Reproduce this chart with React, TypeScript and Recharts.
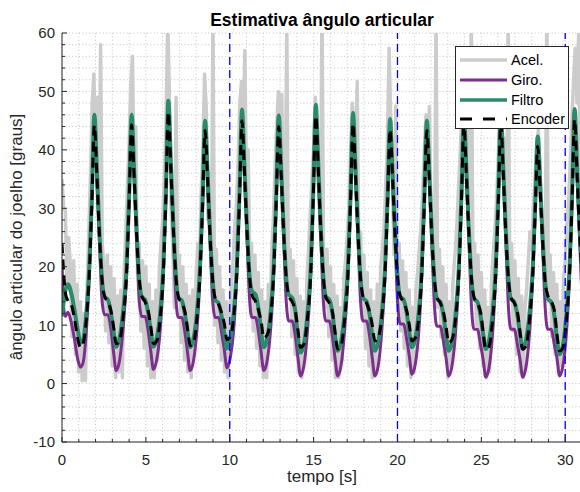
import React from 'react';
import { LineChart, Line, XAxis, YAxis, CartesianGrid, ReferenceLine } from 'recharts';

// knot times [s] shared by the smooth series (giro, filtro, encoder)
const knotTimes = [
    0, 0.1, 0.2, 0.35, 0.55, 0.75, 0.95, 1.1, 1.25, 1.45, 1.63, 1.78,
    1.93, 2.08, 2.23, 2.38, 2.53, 2.73, 2.93, 3.08, 3.23, 3.43, 3.63, 3.85, 4.0,
    4.15, 4.3, 4.45, 4.6, 4.75, 4.95, 5.15, 5.3, 5.45, 5.65, 5.85, 6.04, 6.19,
    6.34, 6.49, 6.64, 6.79, 6.94, 7.14, 7.34, 7.49, 7.64, 7.84, 8.04, 8.23, 8.38,
    8.53, 8.68, 8.83, 8.98, 9.13, 9.33, 9.53, 9.68, 9.83, 10.03, 10.23, 10.43, 10.58,
    10.73, 10.88, 11.03, 11.18, 11.33, 11.53, 11.73, 11.88, 12.03, 12.23, 12.43, 12.62, 12.77,
    12.92, 13.07, 13.22, 13.37, 13.52, 13.72, 13.92, 14.07, 14.22, 14.42, 14.62, 14.83, 14.98,
    15.13, 15.28, 15.43, 15.58, 15.73, 15.93, 16.13, 16.28, 16.43, 16.63, 16.83, 17.05, 17.2,
    17.35, 17.5, 17.65, 17.8, 17.95, 18.15, 18.35, 18.5, 18.65, 18.85, 19.05, 19.26, 19.41,
    19.56, 19.71, 19.86, 20.01, 20.16, 20.36, 20.56, 20.71, 20.86, 21.06, 21.26, 21.45, 21.6,
    21.75, 21.9, 22.05, 22.2, 22.35, 22.55, 22.75, 22.9, 23.05, 23.25, 23.45, 23.66, 23.81,
    23.96, 24.11, 24.26, 24.41, 24.56, 24.76, 24.96, 25.11, 25.26, 25.46, 25.66, 25.86, 26.01,
    26.16, 26.31, 26.46, 26.61, 26.76, 26.96, 27.16, 27.31, 27.46, 27.66, 27.86, 28.06, 28.21,
    28.36, 28.51, 28.66, 28.81, 28.96, 29.16, 29.36, 29.51, 29.66, 29.86, 30.06, 30.26, 30.41,
    30.56, 30.71, 30.86, 31.0,
];

const filtro = [
    11.5, 14, 16, 17, 15.5, 12.5, 9, 7, 7.4, 12, 20, 32,
    46, 36.5, 26, 18, 14.9, 14.4, 11.9, 8.8, 6.3, 7.8, 12, 20, 32,
    46, 36.5, 26, 18, 14.9, 14.4, 11.9, 8.8, 6.3, 7.8, 12, 20, 32.5,
    48.4, 38, 27, 18.5, 14.7, 14.2, 11.7, 8.7, 6.2, 7.7, 12, 20, 31.5,
    45, 36, 25.5, 17.8, 14.3, 13.8, 11.3, 8.5, 6, 7.5, 12, 20.5, 32.5,
    46.9, 37, 26.5, 18.5, 15.8, 15.3, 12.5, 8.7, 6.2, 7.7, 12, 20, 32,
    45.9, 36.5, 26, 18, 15.2, 14.7, 12.2, 7.8, 5.3, 6.8, 11.5, 20, 33,
    47.7, 37.5, 26.5, 18.3, 14.9, 14.4, 11.9, 8.1, 5.6, 7.1, 11.5, 20, 32,
    46.3, 36.5, 26, 18, 14.6, 14.1, 11.6, 8.1, 5.6, 7.1, 11.5, 20, 32,
    45.3, 36, 25.8, 18, 14.9, 14.4, 11.9, 8.7, 6.2, 7.7, 12, 20, 32,
    45, 36, 25.5, 17.8, 14.5, 14, 11.5, 8.1, 5.6, 7.1, 11.5, 20, 32,
    46, 36.5, 26, 18, 14.5, 14, 11.5, 8.4, 5.9, 7.4, 11.8, 20, 32,
    46.5, 36.7, 26, 18, 14.5, 14, 11.5, 8.4, 5.9, 7.4, 11.8, 19.5, 30.5,
    42.3, 34, 24.5, 17.3, 14.5, 14, 11.5, 7.5, 5, 6.5, 11.5, 20, 32.5,
    47, 37, 26.5, 19,
];

const encoder = [
    24, 19, 15.5, 14.2, 13.5, 11, 7.5, 6.2, 6.8, 11, 19, 31,
    44.2, 35.5, 25.5, 18, 15, 14, 12.3, 9.6, 6.8, 7.3, 11, 19, 31,
    44.3, 35.5, 25.5, 18, 15, 14, 12.3, 9.6, 6.8, 7.3, 11, 19, 31.5,
    46.5, 36.8, 26.5, 18.3, 14.8, 13.8, 12.1, 9.3, 6.5, 7, 11, 19, 30.5,
    43.3, 35, 25, 17.8, 14.6, 13.6, 11.9, 10.2, 7.5, 8, 11.2, 19.5, 31.5,
    45, 36, 26, 18.3, 15.1, 14.1, 12.4, 10.5, 7.8, 8.3, 11.2, 19, 31,
    44, 35.5, 25.5, 18, 15, 14, 12.3, 9, 6.2, 6.7, 10.8, 19, 32,
    45.8, 36.5, 26, 18.2, 14.8, 13.8, 12.1, 8.7, 5.9, 6.4, 10.5, 19, 31,
    44.5, 35.5, 25.5, 18, 14.8, 13.8, 12.1, 10, 7.3, 7.8, 11, 19, 31,
    43.5, 35, 25.3, 18, 15, 14, 12.3, 10, 7.3, 7.8, 11, 19, 31,
    43.3, 35, 25, 17.8, 14.8, 13.8, 12.1, 9.7, 7, 7.5, 10.8, 19, 31,
    44.2, 35.5, 25.5, 18, 14.8, 13.8, 12.1, 8.7, 5.9, 6.4, 10.6, 19, 31,
    44.6, 35.7, 25.5, 18, 14.8, 13.8, 12.1, 8.7, 5.9, 6.4, 10.6, 18.5, 29.5,
    40.6, 33, 24, 17.2, 15.1, 14.1, 12.4, 8.4, 5.6, 6.1, 10.5, 19, 31.5,
    45.2, 35.5, 25.5, 18.5,
];

const giro = [
    21, 13, 11.5, 12.2, 10.5, 7.5, 4, 2.8, 3.5, 9, 18.5, 31,
    45.2, 35, 24.5, 14.5, 11.8, 11.8, 9, 5.2, 2.2, 3.9, 9, 18.5, 31,
    45.2, 35, 24.5, 14.3, 11.5, 11.5, 8.7, 5.4, 2.4, 4.1, 9, 18.5, 31.5,
    47.5, 36.5, 25.5, 14.5, 11.3, 11.3, 8.5, 5.2, 2.2, 3.9, 9, 18.5, 30.5,
    44.2, 34.5, 24, 14.2, 11.3, 11.3, 8.5, 5.7, 2.7, 4.4, 9, 19, 31.5,
    46, 35.5, 25, 14.5, 11.3, 11.3, 8.5, 5.2, 2.2, 3.9, 9, 18.5, 31,
    45, 35, 24.5, 14, 10.7, 10.7, 7.9, 4.3, 1.3, 3, 8.5, 18.5, 32,
    46.8, 36, 25, 14.2, 10.7, 10.7, 7.9, 4.3, 1.3, 3, 8.5, 18.5, 31,
    45.4, 35, 24.5, 14, 10.7, 10.7, 7.9, 4.3, 1.3, 3, 8.5, 18.5, 31,
    44.4, 34.5, 24.3, 13.8, 10.2, 10.2, 7.4, 4.6, 1.6, 3.3, 8.5, 18.5, 31,
    44.1, 34.5, 24, 13.5, 9.8, 9.8, 7, 4.3, 1.3, 3, 8.3, 18.5, 31,
    45.1, 35, 24.5, 13.3, 9.3, 9.3, 6.5, 4.1, 1.1, 2.8, 8.2, 18.5, 31,
    45.6, 35.2, 24.5, 13.3, 9.3, 9.3, 6.5, 4.1, 1.1, 2.8, 8.2, 18, 29.5,
    41.4, 32.5, 23, 12.8, 9.3, 9.3, 6.5, 4.3, 1.3, 3, 8.2, 18.5, 31.5,
    46.1, 35, 24.5, 14.5,
];

// accelerometer estimate, one value every 0.1 s from 0 to 31 s
const acel = [
    35, 30, 29.5, 16, 25, 20, 8, 21, 5, 17,
    2, 14, 0.5, 12, 0.5, 17, 26, 36, 48, 53,
    38, 49, 30, 58, 24, 20, 9, 22, 7, 20,
    3, 18, 1, 15, 2, 16, 1, 19, 26, 34,
    41, 51, 56, 35, 44, 19, 24, 9, 21, 6,
    20, 3, 17, 1, 14, 1, 16, 4, 19, 24,
    28, 35, 44, 62, 50, 30, 24, 13, 49, 16,
    22, 7, 20, 4, 17, 2, 15, 1, 16, 5,
    19, 24, 21, 33, 40, 53, 47, 28, 36, 20,
    63, 10, 23, 7, 20, 4, 16, 2, 14, 1,
    12, 17, 21, 27, 31, 38, 48, 51.7, 42, 57,
    33, 40, 19, 24, 9, 22, 6, 19, 3, 16,
    1, 14, 1, 17, 10, 23, 28, 37, 44, 50,
    42, 49.5, 30, 25, 62, 17, 23, 8, 21, 5,
    18, 2, 15, 1, 14, 5, 18, 23, 29, 35,
    40, 49, 37, 33, 26, 64, 20, 13, 23, 8,
    20, 4, 17, 1, 15, 1, 13, 4, 18, 21,
    25, 30, 39, 48, 44, 40, 51.7, 21, 26, 11,
    22, 6, 19, 3, 16, 1, 14, 2, 17, 8,
    20, 23, 27, 34, 41, 57.4, 45, 33, 22, 47.5,
    16, 24, 9, 21, 6, 19, 3, 16, 1, 13,
    2, 16, 19, 23, 27, 33, 40, 46, 38, 47.4,
    30, 24, 18, 63, 13, 23, 8, 20, 5, 17,
    1, 14, 3, 17, 21, 25, 31, 37, 44, 50,
    53, 41, 46, 30, 64, 19, 24, 10, 22, 6,
    19, 3, 16, 1, 13, 2, 17, 22, 26, 31,
    38, 47, 52, 36, 42, 27, 63, 16, 24, 9,
    21, 5, 18, 2, 15, 1, 13, 16, 21, 26,
    23, 30, 35, 41, 43.5, 37, 28, 22, 18, 64,
    14, 22, 8, 19, 5, 17, 2, 14, 3, 18,
    21, 27, 31, 38, 45, 52, 57.4, 48, 60, 30,
    35,
];

const xTicks = [0, 1, 2, 3, 4, 5, 6, 7, 8, 9, 10, 11, 12, 13, 14, 15, 16, 17, 18, 19, 20, 21, 22, 23, 24, 25, 26, 27, 28, 29, 30, 31];
const yTicks = [-10, -8, -6, -4, -2, 0, 2, 4, 6, 8, 10, 12, 14, 16, 18, 20, 22, 24, 26, 28, 30, 32, 34, 36, 38, 40, 42, 44, 46, 48, 50, 52, 54, 56, 58, 60];
const marcas = [10, 20, 30];

const smoothData = knotTimes.map((t, i) => ({ t, giro: giro[i], filtro: filtro[i], encoder: encoder[i] }));
const acelData = acel.map((v, i) => ({ t: i / 10, acel: v }));

const FONT = '"Liberation Sans", Arial, Helvetica, sans-serif';
const AXIS = '#262626';

const XTick = (props: any) => {
    const { x, y, payload } = props;
    const v = payload.value;
    const major = v % 5 === 0;
    const axisY = y - 8;
    return (
        <g>
            <line x1={x} x2={x} y1={axisY} y2={axisY - (major ? 5 : 3)} stroke={AXIS} />
            {major && (
                <text x={x} y={axisY + 23} textAnchor="middle" fontSize={15} fill={AXIS} fontFamily={FONT}>
                    {v}
                </text>
            )}
        </g>
    );
};

const YTick = (props: any) => {
    const { x, y, payload } = props;
    const v = payload.value;
    const major = v % 10 === 0;
    const axisX = x + 7;
    return (
        <g>
            <line x1={axisX} x2={axisX + (major ? 5 : 3)} y1={y} y2={y} stroke={AXIS} />
            {major && (
                <text x={x} y={y} dy="0.36em" textAnchor="end" fontSize={15} fill={AXIS} fontFamily={FONT}>
                    {v}
                </text>
            )}
        </g>
    );
};

const legendItems = [
    { name: 'Acel.', color: '#cccccc', width: 3.5, dash: undefined },
    { name: 'Giro.', color: '#7e2f8e', width: 3, dash: undefined },
    { name: 'Filtro', color: '#2a8a6c', width: 3.5, dash: undefined },
    { name: 'Encoder', color: '#000000', width: 3, dash: '12 11' },
];

const App: React.FC = () => {
    return (
        <div style={{ position: 'absolute', left: 0, top: 0, width: 580, height: 492, overflow: 'hidden', background: '#fff', fontFamily: FONT }}>
            <LineChart width={590} height={492} margin={{ top: 33, right: 8, bottom: 0, left: 0 }}>
                <CartesianGrid stroke="#c4c4c4" strokeDasharray="1 2.4" />
                <XAxis
                    dataKey="t"
                    type="number"
                    domain={[0, 31]}
                    ticks={xTicks}
                    interval={0}
                    allowDataOverflow
                    height={50}
                    tickSize={0}
                    tickMargin={8}
                    tick={<XTick />}
                    axisLine={{ stroke: AXIS }}
                />
                <YAxis
                    type="number"
                    domain={[-10, 60]}
                    ticks={yTicks}
                    interval={0}
                    allowDataOverflow
                    width={62}
                    tickSize={0}
                    tickMargin={7}
                    tick={<YTick />}
                    axisLine={{ stroke: AXIS }}
                />
                <Line data={acelData} dataKey="acel" type="linear" stroke="#cccccc" strokeWidth={3.5} strokeLinejoin="round" dot={false} activeDot={false} isAnimationActive={false} />
                <Line data={smoothData} dataKey="giro" type="monotone" stroke="#7e2f8e" strokeWidth={3} dot={false} activeDot={false} isAnimationActive={false} />
                <Line data={smoothData} dataKey="filtro" type="monotone" stroke="#2a8a6c" strokeWidth={4} dot={false} activeDot={false} isAnimationActive={false} />
                <Line data={smoothData} dataKey="encoder" type="monotone" stroke="#000000" strokeWidth={3} strokeDasharray="10 6" dot={false} activeDot={false} isAnimationActive={false} />
                {marcas.map((m) => (
                    <ReferenceLine key={m} x={m} stroke="#0000ff" strokeWidth={1.3} strokeDasharray="8 5" />
                ))}
            </LineChart>

            <svg width={580} height={492} style={{ position: 'absolute', left: 0, top: 0, pointerEvents: 'none' }}>
                <text x={322} y={26} textAnchor="middle" fontSize={17.5} fontWeight="bold" fill="#000" fontFamily={FONT}>
                    Estimativa ângulo articular
                </text>
                <text x={322} y={482} textAnchor="middle" fontSize={17} fill={AXIS} fontFamily={FONT}>
                    tempo [s]
                </text>
                <text transform="translate(22,237) rotate(-90)" textAnchor="middle" fontSize={17} fill={AXIS} fontFamily={FONT}>
                    ângulo articular do joelho [graus]
                </text>
            </svg>

            <div style={{ position: 'absolute', left: 455, top: 46, width: 114, height: 83, boxSizing: 'border-box', border: `1px solid ${AXIS}`, background: '#fff' }}>
                {legendItems.map((item, i) => (
                    <div key={item.name} style={{ position: 'absolute', left: 4, top: 3 + i * 19.8, height: 20, display: 'flex', alignItems: 'center' }}>
                        <svg width={48} height={20}>
                            <line x1={0} x2={47} y1={10} y2={10} stroke={item.color} strokeWidth={item.width} strokeDasharray={item.dash} />
                        </svg>
                        <span style={{ marginLeft: 3, fontSize: 14.5, color: '#000', whiteSpace: 'nowrap' }}>{item.name}</span>
                    </div>
                ))}
            </div>
        </div>
    );
};

export default App;
